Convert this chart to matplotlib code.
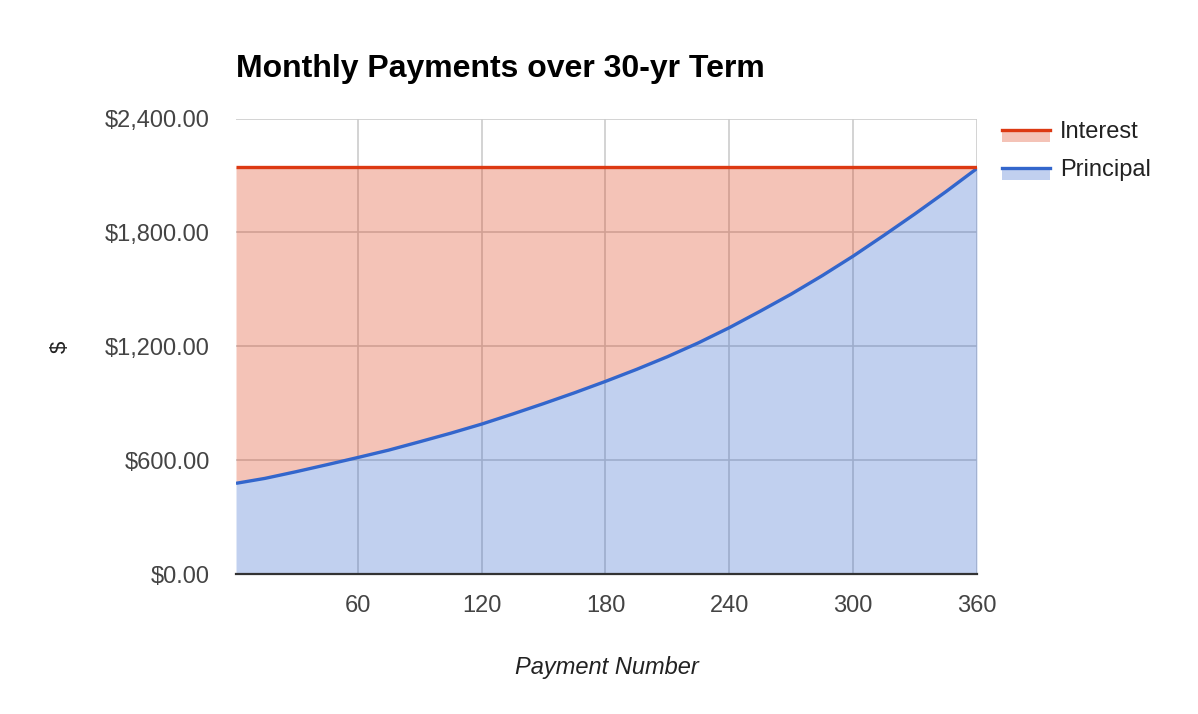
import matplotlib.pyplot as plt
from matplotlib.lines import Line2D
from matplotlib.patches import Rectangle
from matplotlib.ticker import FuncFormatter

plt.rcParams['font.family'] = ['Liberation Sans', 'DejaVu Sans']

# valores (a cada 15 pagamentos)
pagamento = [1, 15, 30, 45, 60, 75, 90, 105, 120, 135, 150, 165, 180,
             195, 210, 225, 240, 255, 270, 285, 300, 315, 330, 345, 360]
principal = [478, 504, 539, 576, 614, 653, 697, 742, 790, 843, 898, 955, 1015,
             1078, 1145, 1218, 1298, 1385, 1475, 1572, 1675, 1785, 1898, 2015, 2137]
juros = [1667, 1641, 1606, 1569, 1531, 1492, 1448, 1403, 1355, 1302, 1247, 1190, 1130,
         1067, 1000, 927, 847, 760, 670, 573, 470, 360, 247, 130, 8]

series = ['Interest', 'Principal']
y_ticks = [0, 600, 1200, 1800, 2400]
x_ticks = [60, 120, 180, 240, 300, 360]

cor_azul = '#3366cc'
cor_verm = '#dc3912'

fig = plt.figure(figsize=(11.98, 7.14), dpi=100)
ax = fig.add_axes([0.197, 0.196, 0.6185, 0.638])

topo = [p + j for p, j in zip(principal, juros)]
ax.fill_between(pagamento, 0, principal, color=cor_azul, alpha=0.3, lw=0, zorder=2)
ax.fill_between(pagamento, principal, topo, color=cor_verm, alpha=0.3, lw=0, zorder=2)
ax.plot(pagamento, principal, color=cor_azul, lw=2.4, zorder=3, solid_capstyle='butt')
ax.plot(pagamento, topo, color=cor_verm, lw=2.4, zorder=3, solid_capstyle='butt')

ax.set_xlim(1, 360)
ax.set_ylim(0, 2400)
ax.set_xticks(x_ticks)
ax.set_yticks(y_ticks)
ax.yaxis.set_major_formatter(FuncFormatter(lambda v, p: '${:,.2f}'.format(v)))
ax.grid(True, color='#cccccc', lw=1.2, zorder=1)
ax.set_axisbelow(True)
for lado in ['top', 'right', 'left']:
    ax.spines[lado].set_visible(False)
ax.spines['bottom'].set_color('#333333')
ax.spines['bottom'].set_linewidth(1.6)
ax.spines['bottom'].set_zorder(4)
ax.tick_params(length=0, labelsize=17, labelcolor='#444444')
ax.tick_params(axis='x', pad=15)
ax.tick_params(axis='y', pad=19)

ax.set_title('Monthly Payments over 30-yr Term', loc='left', fontsize=23,
             fontweight='bold', color='black', pad=30)
ax.set_xlabel('Payment Number', fontsize=17, style='italic', color='#222222', labelpad=28)
fig.text(0.05, 0.514, '$', rotation=90, fontsize=16, color='#222222', va='center', ha='center')

# legenda manual
cores = [cor_verm, cor_azul]
for i, nome in enumerate(series):
    y = 1 - (130 + 38 * i) / 714
    fig.patches.append(Rectangle((1002 / 1198, y - 12 / 714), 48 / 1198, 12 / 714,
                                 transform=fig.transFigure, color=cores[i], alpha=0.3, lw=0))
    fig.lines.append(Line2D([1002 / 1198, 1050 / 1198], [y, y], transform=fig.transFigure,
                            color=cores[i], lw=2.4))
    fig.text(1060 / 1198, y - 2 / 714, nome, fontsize=17, color='#222222', va='center')

fig.savefig('out.png', dpi=100)
